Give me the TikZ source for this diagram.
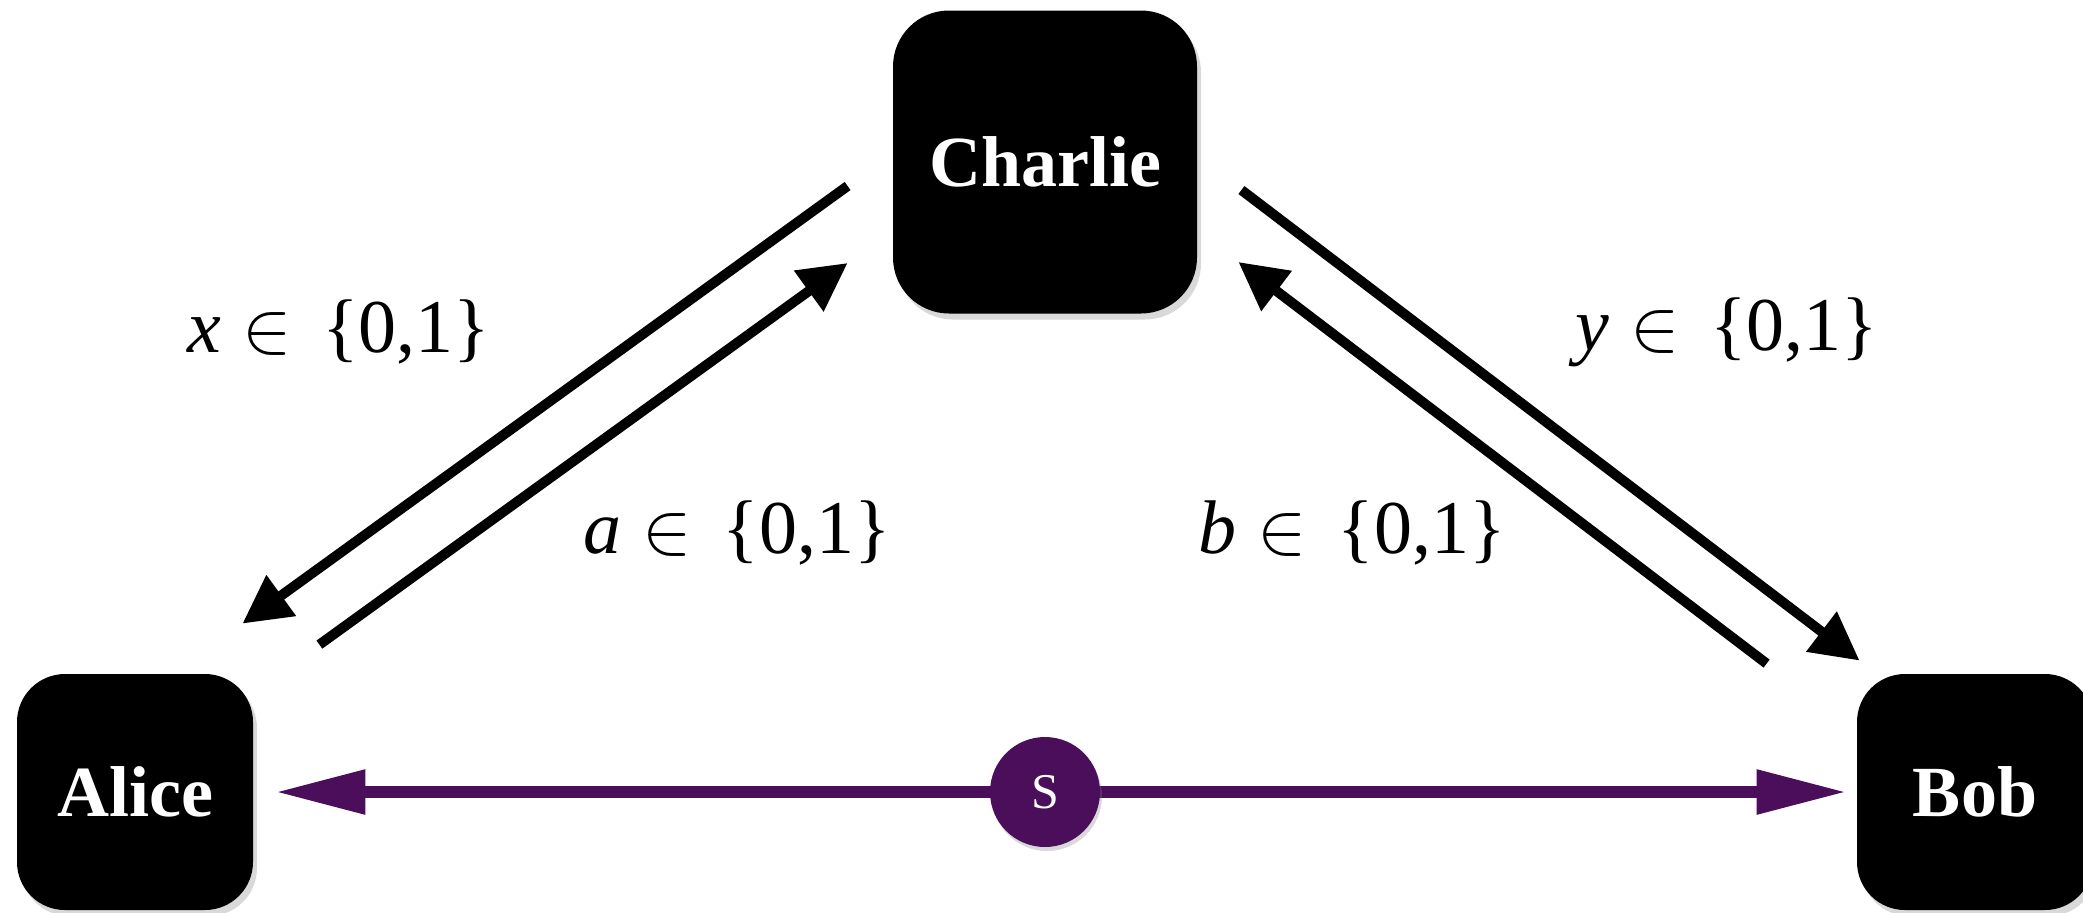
\documentclass[tikz,border=0pt]{standalone}
\usepackage{fontspec}
\setmainfont{Liberation Serif}
\usetikzlibrary{arrows.meta,shadows,calc}
\definecolor{spurple}{RGB}{74,14,90}
\newcommand{\elem}{{\fontsize{10}{12}\selectfont\raisebox{0pt}{\scalebox{3.7}{$\in$}}}}
\begin{document}
\begin{tikzpicture}[x=0.5pt,y=-0.5pt,
  party/.style={fill=black, text=white, font=\fontsize{36}{40}\selectfont\bfseries,
    drop shadow={opacity=0.3, shadow xshift=2pt, shadow yshift=-3pt}, inner sep=0pt},
  big/.style={party, rounded corners=28pt, minimum width=152pt, minimum height=151.5pt},
  small/.style={party, rounded corners=24pt, minimum width=118pt, minimum height=118pt},
  lbl/.style={font=\fontsize{38}{44}\selectfont, inner sep=0pt},
  chan/.style={line width=5pt, -{Triangle[length=24pt,width=24pt]}},
  ent/.style={line width=6pt, draw=spurple, -{Triangle[length=45pt,width=21pt]}},
  srcnode/.style={circle, fill=spurple, minimum size=55pt, inner sep=0pt, text=white,
    font=\fontsize{25}{28}\selectfont, drop shadow={opacity=0.3, shadow xshift=1pt, shadow yshift=-2pt}}
]
\path[use as bounding box] (0,0) rectangle (2083,912);
\node[big] (C) at (1045,162) {Charlie};
\node[small] (A) at (135,792) {Alice};
\node[small] (B) at (1975,792) {Bob};

\draw[ent, shorten >=11pt] (1045,792) -- (A.east);
\draw[ent, shorten >=5pt] (1045,792) -- (B.west);
\node[srcnode] (S) at (1045,792) {S};

\draw[chan] ($(C.west)+(-45,24)$) -- ($(A.north east)+(-11,-50)$);
\draw[chan] ($(A.north east)+(66,-29)$) -- ($(C.west)+(-45,101)$);
\draw[chan] ($(C.east)+(44,28)$) -- ($(B.north west)+(3,-13)$);
\draw[chan] ($(B.north west)+(-90,-10)$) -- ($(C.east)+(41,100)$);

\node[lbl] (lx) at (339,332) {\textit{x}\hspace{0.28em}\elem\hspace{0.4em}\{0,1\}};
\node[lbl] (la) at (737,533) {\textit{a}\hspace{0.28em}\elem\hspace{0.4em}\{0,1\}};
\node[lbl] (lb) at (1352,533) {\textit{b}\hspace{0.28em}\elem\hspace{0.4em}\{0,1\}};
\node[lbl] (ly) at (1727,332) {\textit{y}\hspace{0.28em}\elem\hspace{0.4em}\{0,1\}};
\end{tikzpicture}
\end{document}
